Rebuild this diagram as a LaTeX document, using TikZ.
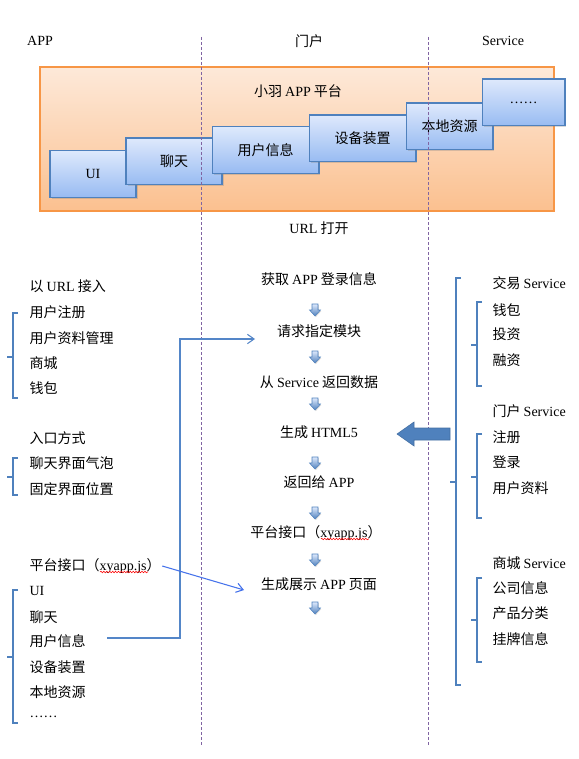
\documentclass[tikz,border=0pt]{standalone}
\usepackage{fontspec}
\setmainfont{Noto Sans CJK SC}
\newfontfamily\lat{Liberation Serif}
\usetikzlibrary{arrows.meta, shadows, positioning, decorations.pathmorphing}
\definecolor{barblue}{RGB}{79,129,189}
\definecolor{orangeedge}{RGB}{247,150,70}
\definecolor{orangetop}{RGB}{253,233,217}
\definecolor{orangebot}{RGB}{251,192,143}
\definecolor{boxtop}{RGB}{222,233,252}
\definecolor{boxbot}{RGB}{152,187,242}
\definecolor{guidepurple}{RGB}{128,100,162}
\definecolor{linkA}{RGB}{84,134,200}
\definecolor{linkB}{RGB}{70,115,235}
\tikzset{
  platbox/.style={draw=orangeedge, line width=1pt, top color=orangetop, bottom color=orangebot},
  modbox/.style={rectangle, draw=barblue, line width=1pt, top color=boxtop, bottom color=boxbot, minimum height=35pt, inner sep=0pt, drop shadow={shadow xshift=1.2pt, shadow yshift=-1.2pt, opacity=0.3}},
  item/.style={inner sep=1pt, anchor=west},
  txt/.style={inner sep=1pt},
  guide/.style={draw=guidepurple, line width=0.75pt, dash pattern=on 2.25pt off 1.5pt},
  brace/.style={draw=barblue, line width=1.6pt},
  link/.style={-{Straight Barb[length=5pt, width=7pt]}, line width=0.8pt},
  downarr/.style={draw=barblue, line width=0.4pt, top color=boxtop, bottom color=barblue, drop shadow={shadow xshift=0.6pt, shadow yshift=-0.8pt, opacity=0.3}},
  spell/.style={draw=red, line width=0.4pt, decorate, decoration={snake, amplitude=0.6pt, segment length=2.2pt}},
}
\begin{document}
\begin{tikzpicture}[x=0.75pt, y=-0.75pt, font=\fontsize{10.5}{12}\selectfont]
  \useasboundingbox (0,0) rectangle (578,759);
  % column headings
  \node[txt] (happ) at (40,41) {\lat APP};
  \node[txt] (hportal) at (309,41) {门户};
  \node[txt] (hsvc) at (503,41) {\lat Service};
  % platform
  \draw[platbox] (40,67) rectangle (554,211);
  \node[txt] (ptitle) at (298,91) {小羽 {\lat APP} 平台};
  \node[modbox, minimum width=64.5pt] (ui) at (93,174) {\lat UI};
  \node[modbox, minimum width=72pt] (chat) at (174,161.5) {聊天};
  \node[modbox, minimum width=80pt] (userinfo) at (265.5,150) {用户信息};
  \node[modbox, minimum width=80pt] (device) at (362.5,138.5) {设备装置};
  \node[modbox, minimum width=65pt] (localres) at (449.5,126.5) {本地资源};
  \node[modbox, minimum width=62pt] (more) at (523.5,102.5) {\lat ……};
  \node[txt] (urlopen) at (319,228) {{\lat URL} 打开};
  % guides
  \draw[guide] (201,37) -- (201,746);
  \draw[guide] (428,37) -- (428,746);
  % left column
  \foreach \n/\y/\t in {lurl/286/{以 {\lat URL} 接入}, lreg/312/用户注册, lprof/338/用户资料管理, lmall/363/商城, lwallet/388/钱包,
      lentry/438/入口方式, lbubble/463/聊天界面气泡, lfixed/489/固定界面位置,
      lapi/566/{平台接口（{\lat xyapp.js}）}, lui/591/{\lat UI}, lchat/617/聊天, luser/641/用户信息,
      ldevice/667/设备装置, llocal/692/本地资源, lmore/717/{\lat ……}}
    \node[item] (\n) at (28,\y) {\t};
  % middle column
  \node[txt] (getinfo) at (319,279) {获取 {\lat APP} 登录信息};
  \node[txt] (reqmod) at (319,331) {请求指定模块};
  \node[txt] (fromsvc) at (319,382) {从 {\lat Service} 返回数据};
  \node[txt] (genhtml) at (319,432) {生成 {\lat HTML5}};
  \node[txt] (retapp) at (319,482) {返回给 {\lat APP}};
  \node[txt] (mapi) at (316,533) {平台接口（{\lat xyapp.js}）};
  \node[txt] (genpage) at (319,584) {生成展示 {\lat APP} 页面};
  \foreach \y in {310,357,404,463,513,560,608}
    \draw[downarr] (312,\y-6) -- (318,\y-6) -- (318,\y) -- (320.5,\y) -- (315,\y+6) -- (309.5,\y) -- (312,\y) -- cycle;
  % spell marks
  \draw[spell] (lapi.west) ++(72,6) -- ++(48,0);
  \draw[spell] (mapi.west) ++(72,6) -- ++(48,0);
  % right column
  \foreach \n/\y/\t in {rtrade/283/{交易 {\lat Service}}, rwallet/310/钱包, rinvest/334/投资, rfinance/360/融资,
      rportal/411/{门户 {\lat Service}}, rreg/437/注册, rlogin/462/登录, rprofile/488/用户资料,
      rmall/563/{商城 {\lat Service}}, rcompany/588/公司信息, rproduct/613/产品分类, rlisting/639/挂牌信息}
    \node[item] (\n) at (491,\y) {\t};
  % braces
  \foreach \x/\ya/\yb/\ym in {13/313/398/357, 13/458/495/477, 13/590/723/657, 456/278/685/482,
      477/302/386/345, 477/434/518/477, 477/578/662/620}
    \draw[brace] (\x+5,\ya) -- (\x,\ya) -- (\x,\yb) -- (\x+5,\yb) (\x,\ym) -- (\x-6,\ym);
  % service feed
  \draw[barblue!85!black, fill=barblue, line width=0.4pt] (397,434) -- (414,422) -- (414,428) -- (450,428)
    -- (450,440) -- (414,440) -- (414,446) -- cycle;
  % links
  \coordinate (bendA) at (180,339);
  \coordinate (reqin) at (255,339);
  \coordinate (pagein) at (244,590);
  \draw[link, linkA] (luser.east) ++(20,-3) -| (bendA) -- (reqin);
  \draw[link, linkB] (lapi.east) -- (pagein);
\end{tikzpicture}
\end{document}
